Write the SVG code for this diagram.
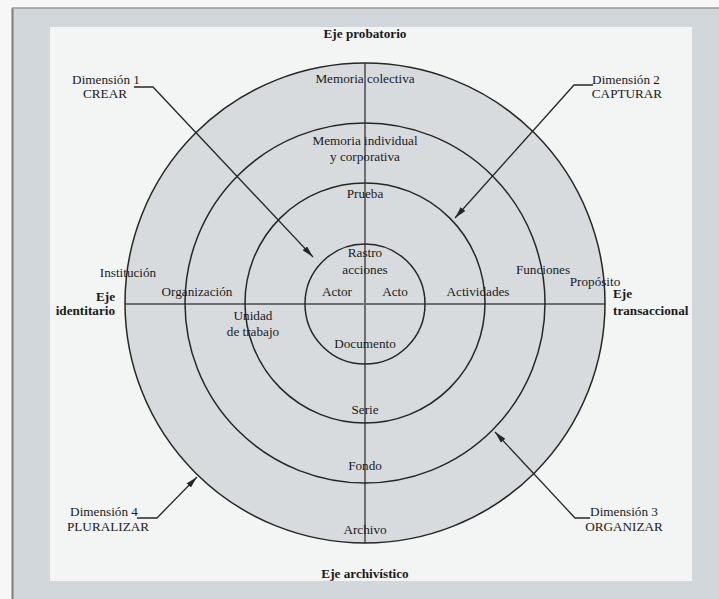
<svg xmlns="http://www.w3.org/2000/svg" width="719" height="599" viewBox="0 0 719 599">
  <defs>
    <style>
      .t { font-family: "Liberation Serif", "Times New Roman", serif; font-size: 13.2px; fill: #1a1a1a; text-anchor: middle; }
      .b { font-weight: bold; }
      .ring { fill: none; stroke: #262626; stroke-width: 1.5; }
      .axis { stroke: #6e6e6e; stroke-width: 2; }
      .lead { fill: none; stroke: #262626; stroke-width: 1.3; marker-end: url(#head); }
    </style>
    <marker id="head" viewBox="0 0 12 6" refX="12" refY="3" markerWidth="12" markerHeight="6" markerUnits="userSpaceOnUse" orient="auto">
      <path d="M0,0 L12,3 L0,6 z" fill="#262626"/>
    </marker>
  </defs>

  <!-- page and frame -->
  <rect x="0" y="0" width="719" height="599" fill="#f7f7f7"/>
  <rect x="12" y="8" width="707" height="591" fill="#d2d7db"/>
  <line x1="12.5" y1="8" x2="12.5" y2="599" stroke="#7d7d7d" stroke-width="2"/>
  <line x1="12" y1="8" x2="719" y2="8" stroke="#9a9a9a" stroke-width="1.5"/>
  <rect x="50" y="27" width="642" height="554" fill="#f3f4f4"/>

  <!-- disc background -->
  <circle cx="365" cy="303" r="240" fill="#d8dbde"/>

  <!-- axes -->
  <g id="axes">
    <line class="axis" x1="365" y1="63" x2="365" y2="543"/>
    <line class="axis" x1="125" y1="304" x2="605" y2="304"/>
    <text class="t b" x="365" y="38">Eje probatorio</text>
    <text class="t b" x="365" y="578">Eje archivístico</text>
    <text class="t b" x="115" y="301" style="text-anchor:end">Eje</text>
    <text class="t b" x="115" y="315" style="text-anchor:end">identitario</text>
    <text class="t b" x="613" y="298" style="text-anchor:start">Eje</text>
    <text class="t b" x="613" y="315" style="text-anchor:start">transaccional</text>
  </g>

  <!-- outer ring: archivo -->
  <g id="ring4">
    <circle class="ring" cx="365" cy="303" r="240"/>
    <text class="t" x="365" y="83">Memoria colectiva</text>
    <text class="t" x="128" y="277">Institución</text>
    <text class="t" x="595" y="286">Propósito</text>
    <text class="t" x="365" y="534">Archivo</text>
  </g>

  <!-- third ring: fondo -->
  <g id="ring3">
    <circle class="ring" cx="365" cy="303" r="180"/>
    <text class="t" x="365" y="145">Memoria individual</text>
    <text class="t" x="365" y="161">y corporativa</text>
    <text class="t" x="197" y="296">Organización</text>
    <text class="t" x="543" y="274">Funciones</text>
    <text class="t" x="365" y="470">Fondo</text>
  </g>

  <!-- second ring: serie -->
  <g id="ring2">
    <circle class="ring" cx="365" cy="303" r="120"/>
    <text class="t" x="365" y="198">Prueba</text>
    <text class="t" x="478" y="296">Actividades</text>
    <text class="t" x="253" y="320">Unidad</text>
    <text class="t" x="253" y="336">de trabajo</text>
    <text class="t" x="365" y="414">Serie</text>
  </g>

  <!-- inner ring: documento -->
  <g id="ring1">
    <circle class="ring" cx="365" cy="304" r="60"/>
    <text class="t" x="365" y="257">Rastro</text>
    <text class="t" x="365" y="274">acciones</text>
    <text class="t" x="337" y="296">Actor</text>
    <text class="t" x="395" y="296">Acto</text>
    <text class="t" x="365" y="348">Documento</text>
  </g>

  <!-- dimension labels -->
  <g id="dim1">
    <text class="t" x="106" y="84">Dimensión 1</text>
    <text class="t" x="105" y="98">CREAR</text>
  </g>
  <g id="dim2">
    <text class="t" x="626" y="84">Dimensión 2</text>
    <text class="t" x="627" y="98">CAPTURAR</text>
  </g>
  <g id="dim3">
    <text class="t" x="624" y="516">Dimensión 3</text>
    <text class="t" x="624" y="531">ORGANIZAR</text>
  </g>
  <g id="dim4">
    <text class="t" x="104" y="516">Dimensión 4</text>
    <text class="t" x="108" y="531">PLURALIZAR</text>
  </g>

  <!-- connectors -->
  <g id="connectors">
    <polyline class="lead" points="134,87 153,87 313,257"/>
    <polyline class="lead" points="593,85 574,85 455,218"/>
    <polyline class="lead" points="590,518 575,518 495,432"/>
    <polyline class="lead" points="137,518 157,518 197,477"/>
  </g>
</svg>
